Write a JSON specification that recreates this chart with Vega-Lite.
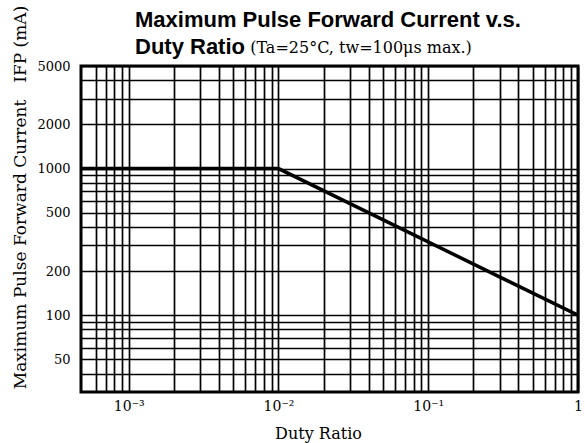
{
  "$schema": "https://vega.github.io/schema/vega-lite/v6.json",
  "width": 497,
  "height": 326,
  "autosize": {"type": "none"},
  "padding": {"left": 81, "top": 66, "right": 7, "bottom": 51},
  "background": "white",
  "title": {
    "text": ["Maximum Pulse Forward Current v.s.", "Duty Ratio"],
    "subtitle": "\u200b\u2003\u2003\u2003\u2003\u2003\u2003\u2003\u2009(Ta=25°C, tw=100μs max.)",
    "anchor": "start",
    "frame": "group",
    "align": "left",
    "dx": 54,
    "offset": -54,
    "font": "Liberation Sans",
    "fontSize": 22,
    "fontWeight": "bold",
    "lineHeight": 27,
    "color": "black",
    "subtitleFont": "DejaVu Serif",
    "subtitleFontSize": 16,
    "subtitleColor": "black",
    "subtitlePadding": -19
  },
  "config": {
    "view": {"stroke": "black", "strokeWidth": 3},
    "axis": {
      "domain": false,
      "ticks": false,
      "tickSize": 0,
      "grid": true,
      "gridColor": "black",
      "gridOpacity": 1,
      "gridWidth": 1.7,
      "labelColor": "black",
      "titleColor": "black",
      "labelOverlap": false,
      "labelBound": false,
      "labelFlush": false
    }
  },
  "data": {
    "values": [
      {"duty": 0.00048, "current": 1000},
      {"duty": 0.01, "current": 1000},
      {"duty": 1, "current": 100}
    ]
  },
  "mark": {"type": "line", "color": "black", "strokeWidth": 3.5, "clip": true},
  "encoding": {
    "x": {
      "field": "duty",
      "type": "quantitative",
      "scale": {"type": "log", "domain": [0.00048, 1], "nice": false},
      "axis": {
        "values": [0.0006, 0.0007, 0.0008, 0.0009, 0.001, 0.002, 0.003, 0.004, 0.005, 0.006, 0.007, 0.008, 0.009, 0.01, 0.02, 0.03, 0.04, 0.05, 0.06, 0.07, 0.08, 0.09, 0.1, 0.2, 0.3, 0.4, 0.5, 0.6, 0.7, 0.8, 0.9, 1],
        "labelExpr": "datum.value == 0.001 ? '10⁻³' : datum.value == 0.01 ? '10⁻²' : datum.value == 0.1 ? '10⁻¹' : datum.value == 1 ? '1' : ''",
        "labelFont": "DejaVu Serif",
        "labelFontSize": 14,
        "labelBaseline": "alphabetic",
        "labelPadding": 18,
        "title": "Duty Ratio",
        "titleFont": "DejaVu Serif",
        "titleFontSize": 16,
        "titleFontWeight": "normal",
        "titleX": 237,
        "titleY": 46,
        "titleAlign": "center",
        "titleBaseline": "alphabetic"
      }
    },
    "y": {
      "field": "current",
      "type": "quantitative",
      "scale": {"type": "log", "domain": [30, 5000], "nice": false},
      "axis": {
        "values": [40, 50, 60, 70, 80, 90, 100, 200, 300, 400, 500, 600, 700, 800, 900, 1000, 2000, 3000, 4000, 5000],
        "labelExpr": "indexof([50, 100, 200, 500, 1000, 2000, 5000], datum.value) >= 0 ? datum.label : ''",
        "format": "d",
        "labelFont": "DejaVu Serif",
        "labelFontSize": 13,
        "labelPadding": 11,
        "labelBaseline": "middle",
        "title": "Maximum Pulse Forward Current\u2003IFP (mA)",
        "titleFont": "DejaVu Serif",
        "titleFontSize": 17,
        "titleFontWeight": "normal",
        "titleAngle": -90,
        "titleX": -56,
        "titleY": 131,
        "titleAlign": "center",
        "titleBaseline": "alphabetic"
      }
    }
  }
}
